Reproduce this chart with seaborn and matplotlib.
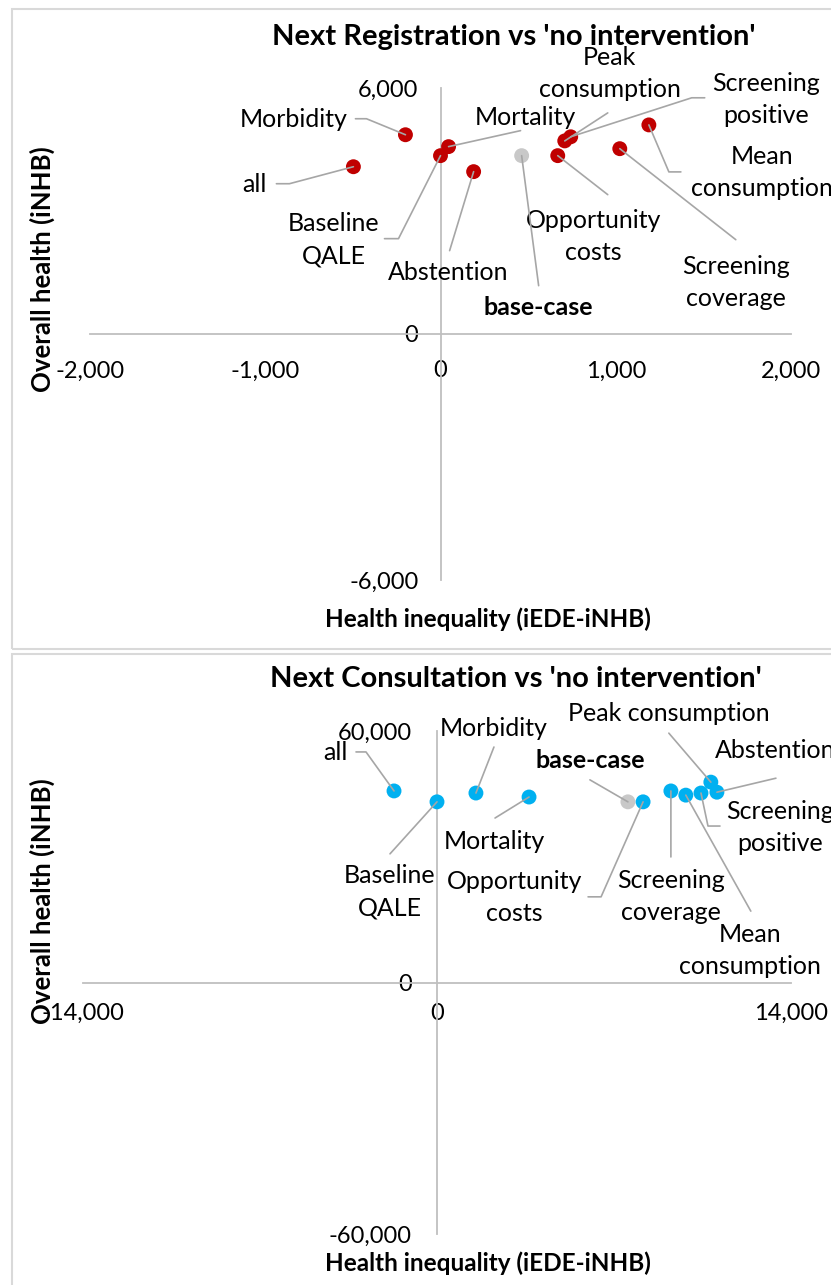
import numpy as np
import pandas as pd
import matplotlib
matplotlib.use("Agg")
import matplotlib.pyplot as plt
from matplotlib.patches import Rectangle
from matplotlib.ticker import MultipleLocator, StrMethodFormatter
import seaborn as sns

# scenarios, same order in both charts
scenarios = ["base-case", "all", "Morbidity", "Baseline QALE", "Mortality", "Abstention",
             "Opportunity costs", "Peak consumption", "Screening positive",
             "Screening coverage", "Mean consumption"]

# Next Registration vs 'no intervention'
reg_inequality = [463, -497, -200, 0, 46, 189, 669, 709, 743, 1023, 1189]
reg_health = [4350, 4080, 4860, 4350, 4570, 3960, 4350, 4710, 4810, 4520, 5100]

# Next Consultation vs 'no intervention'
con_inequality = [7550, -1700, 1540, 0, 3640, 11070, 8150, 10830, 10440, 9250, 9840]
con_health = [43100, 45700, 45200, 43100, 44250, 45400, 43100, 47800, 45200, 45700, 44700]

RED = "#C00000"
BLUE = "#00B0F0"
GREY_PT = "#C8C8C8"
AXIS = "#BFBFBF"
LEADER = "#A6A6A6"
BORDER = "#D9D9D9"

sns.set_theme(style="white")
plt.rcParams["font.family"] = ["Lato", "DejaVu Sans"]
plt.rcParams["axes.unicode_minus"] = False
plt.rcParams["text.color"] = "black"

# label layout: text, text offset, leader start, elbow (pixels from the point)
reg_layout = {
    "all": ("all", (-99, -18), (-77, -17), (-64, -17)),
    "Morbidity": ("Morbidity", (-112, 15), (-50, 16), (-39, 16)),
    "Baseline QALE": ("Baseline\nQALE", (-107, -84), (-56, -83), (-42, -83)),
    "Mortality": ("Mortality", (77, 29), (72, 16), None),
    "Abstention": ("Abstention", (-25, -101), (-24, -79), None),
    "base-case": ("base-case", (17, -152), (17, -130), None),
    "Opportunity costs": ("Opportunity\ncosts", (36, -81), (50, -39), None),
    "Peak consumption": ("Peak\nconsumption", (45, 67), (43, 28), None),
    "Screening positive": ("Screening\npositive", (195, 37), (134, 39), (121, 39)),
    "Screening coverage": ("Screening\ncoverage", (116, -134), (116, -91), None),
    "Mean consumption": ("Mean\nconsumption", (113, -48), (32, -47), (20, -47)),
}
con_layout = {
    "all": ("all", (-59, 38), (-38, 39), (-28, 39)),
    "Morbidity": ("Morbidity", (18, 65), (18, 46), None),
    "Baseline QALE": ("Baseline\nQALE", (-47, -90), (-47, -52), None),
    "Mortality": ("Mortality", (-35, -44), (-34, -21), None),
    "base-case": ("base-case", (-38, 41), (-38, 22), None),
    "Opportunity costs": ("Opportunity\ncosts", (-129, -96), (-55, -95), (-42, -95)),
    "Screening coverage": ("Screening\ncoverage", (0, -106), (0, -66), None),
    "Mean consumption": ("Mean\nconsumption", (64, -155), (65, -116), None),
    "Screening positive": ("Screening\npositive", (79, -34), (19, -33), (7, -33)),
    "Peak consumption": ("Peak consumption", (-42, 69), (-42, 49), None),
    "Abstention": ("Abstention", (58, 42), (59, 14), None),
}

LABEL_SIZE = 18
TICK_SIZE = 17


def draw_panel(ax, x, y, colour, layout, xlim, ylim, xstep, ystep, xpad, ypad):
    df = pd.DataFrame({"scenario": scenarios, "x": x, "y": y})
    df["kind"] = np.where(df["scenario"] == "base-case", "base", "other")
    sns.scatterplot(data=df, x="x", y="y", hue="kind", palette={"base": GREY_PT, "other": colour},
                    s=115, linewidth=0, legend=False, ax=ax, zorder=3)
    ax.set_xlim(*xlim)
    ax.set_ylim(*ylim)
    ax.xaxis.set_major_locator(MultipleLocator(xstep))
    ax.yaxis.set_major_locator(MultipleLocator(ystep))
    ax.xaxis.set_major_formatter(StrMethodFormatter("{x:,.0f}"))
    ax.yaxis.set_major_formatter(StrMethodFormatter("{x:,.0f}"))
    for side in ["top", "right"]:
        ax.spines[side].set_visible(False)
    for side in ["left", "bottom"]:
        ax.spines[side].set_position("zero")
        ax.spines[side].set_color(AXIS)
        ax.spines[side].set_linewidth(1.3)
    ax.tick_params(length=0, labelsize=TICK_SIZE, labelcolor="black")
    ax.tick_params(axis="x", pad=xpad)
    ax.tick_params(axis="y", pad=ypad)
    ax.set_xlabel("")
    ax.set_ylabel("")
    ax.patch.set_alpha(0)

    for _, row in df.iterrows():
        text, (tx, ty), (sx, sy), elbow = layout[row["scenario"]]
        weight = "bold" if row["scenario"] == "base-case" else "normal"
        ax.annotate(text, xy=(row["x"], row["y"]), xytext=(tx, ty), textcoords="offset pixels",
                    ha="center", va="center", fontsize=LABEL_SIZE, fontweight=weight,
                    linespacing=1.47, color="black")
        if elbow is None:
            style = "arc3"
        else:
            ex, ey = elbow
            style = f"angle,angleA=0,angleB={np.degrees(np.arctan2(ey, ex)):.2f}"
        ax.annotate("", xy=(row["x"], row["y"]), xytext=(sx, sy), textcoords="offset pixels",
                    arrowprops=dict(arrowstyle="-", color=LEADER, lw=1.2, shrinkA=0, shrinkB=0,
                                    connectionstyle=style), zorder=4)


W, H = 831, 1285
fig = plt.figure(figsize=(W / 100, H / 100), dpi=100)
fig.patch.set_facecolor("white")

# chart area frames
fig.add_artist(Rectangle((12 / W, 1 - 649 / H), 1.0, 640 / H, transform=fig.transFigure,
                         fill=False, edgecolor=BORDER, lw=1.5))
fig.add_artist(Rectangle((12 / W, -0.05), 1.0, 0.05 + 1 - 654 / H, transform=fig.transFigure,
                         fill=False, edgecolor=BORDER, lw=1.5))

ax1 = fig.add_axes([90 / W, 1 - 580 / H, (791 - 90) / W, (580 - 88) / H])
draw_panel(ax1, reg_inequality, reg_health, RED, reg_layout,
           (-2000, 2000), (-6000, 6000), 1000, 6000, 19, 16)

ax2 = fig.add_axes([83 / W, 1 - 1234 / H, (791 - 83) / W, (1234 - 731) / H])
draw_panel(ax2, con_inequality, con_health, BLUE, con_layout,
           (-14000, 14000), (-60000, 60000), 14000, 60000, 15, 18)

# titles and axis titles
fig.text(514 / W, 1 - 37 / H, "Next Registration vs 'no intervention'", ha="center", va="center",
         fontsize=21, fontweight="bold", color="black")
fig.text(516 / W, 1 - 679 / H, "Next Consultation vs 'no intervention'", ha="center", va="center",
         fontsize=21, fontweight="bold", color="black")
fig.text(488 / W, 1 - 619 / H, "Health inequality (iEDE-iNHB)", ha="center", va="center",
         fontsize=17.5, fontweight="bold", color="black")
fig.text(488 / W, 1 - 1263 / H, "Health inequality (iEDE-iNHB)", ha="center", va="center",
         fontsize=17.5, fontweight="bold", color="black")
fig.text(42 / W, 1 - 269 / H, "Overall health (iNHB)", ha="center", va="center", rotation=90,
         fontsize=18.5, fontweight="bold", color="black")
fig.text(42 / W, 1 - 901 / H, "Overall health (iNHB)", ha="center", va="center", rotation=90,
         fontsize=18.5, fontweight="bold", color="black")

fig.savefig("out.png", dpi=100, facecolor="white")
